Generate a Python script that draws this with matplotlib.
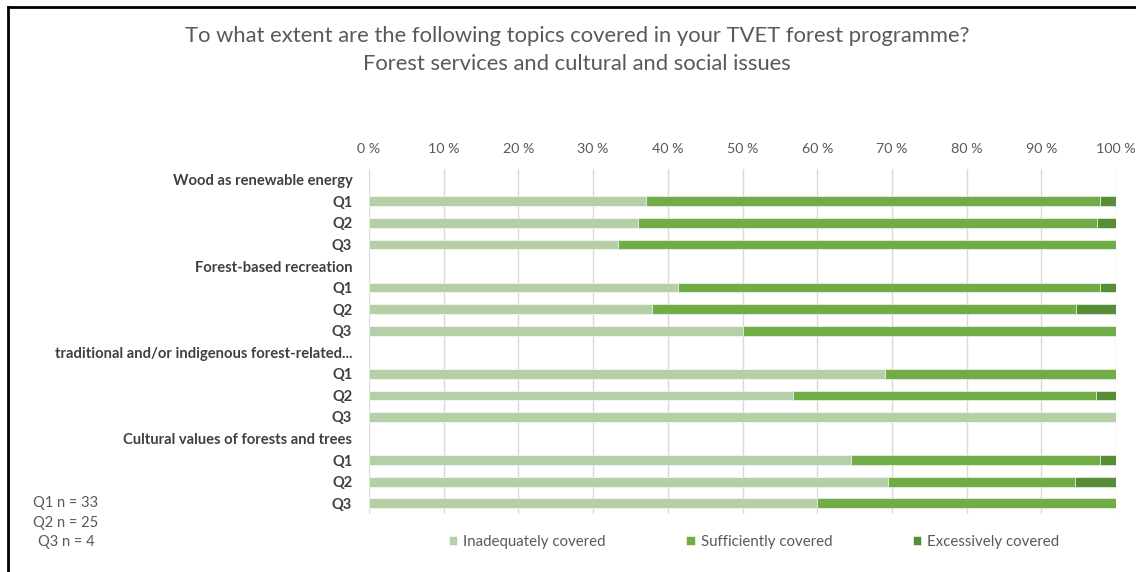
import matplotlib.pyplot as plt
from matplotlib.lines import Line2D

plt.rcParams['font.family'] = ['Lato', 'DejaVu Sans']

# data (percent of respondents)
topics = ['Wood as renewable energy', 'Forest-based recreation',
          'traditional and/or indigenous forest-related...',
          'Cultural values of forests and trees']
groups = ['Q1', 'Q2', 'Q3']
inadequate = [37.1, 36.0, 33.4, 41.4, 37.9, 50.1, 69.1, 56.8, 100.0, 64.5, 69.5, 60.0]
sufficient = [60.7, 61.5, 66.6, 56.4, 56.7, 49.9, 30.9, 40.5, 0.0, 33.3, 25.0, 40.0]
excessive = [2.2, 2.5, 0.0, 2.2, 5.4, 0.0, 0.0, 2.7, 0.0, 2.2, 5.5, 0.0]
notes = ['Q1 n = 33', 'Q2 n = 25', 'Q3 n = 4']
series_names = ['Inadequately covered', 'Sufficiently covered', 'Excessively covered']
colors = ['#b5cfa7', '#70ad47', '#588c37']
text_grey = '#595959'

# build row layout: topic header row followed by Q1..Q3 rows
labels = []
bar_rows = []
for topic in topics:
    labels.append(topic)
    for g in groups:
        bar_rows.append(len(labels))
        labels.append(g)

fig = plt.figure(figsize=(11.36, 5.72), dpi=100)
ax = fig.add_axes([369 / 1136, 1 - 514 / 572, 747 / 1136, 345 / 572])

left = [0.0] * len(bar_rows)
for vals, name, c in zip([inadequate, sufficient, excessive], series_names, colors):
    ax.barh(bar_rows, vals, left=left, height=0.45, color=c, label=name,
            edgecolor='white', linewidth=0.4, zorder=3)
    left = [a + b for a, b in zip(left, vals)]

ax.set_ylim(len(labels) - 0.5, -0.5)
ax.set_yticks(range(len(labels)))
ax.set_yticklabels(labels, fontsize=10.6, fontweight='bold', color='#404040')
ax.set_xlim(0, 100)
ax.set_xticks(range(0, 101, 10))
ax.set_xticklabels([f'{v} %' for v in range(0, 101, 10)], fontsize=10.3, color=text_grey)
ax.xaxis.tick_top()
ax.tick_params(axis='both', length=0)
ax.tick_params(axis='x', pad=10)
ax.tick_params(axis='y', pad=12)
ax.grid(axis='x', color='#d9d9d9', linewidth=1, zorder=0)
for s in ax.spines.values():
    s.set_visible(False)

fig.text(577 / 1136, 1 - 36 / 572, 'To what extent are the following topics covered in your TVET forest programme?',
         ha='center', va='center', fontsize=15.8, color=text_grey)
fig.text(577 / 1136, 1 - 64 / 572, 'Forest services and cultural and social issues',
         ha='center', va='center', fontsize=15.8, color=text_grey)

for i, t in enumerate(notes):
    fig.text(33 / 1136 + (0.004 if i == 2 else 0), 1 - (503 + 19.5 * i) / 572, t,
             ha='left', va='center', fontsize=10.5, color=text_grey)

fig.legend(loc='center', bbox_to_anchor=(754 / 1136, 1 - 542 / 572), ncol=3, frameon=False,
           fontsize=10.8, labelcolor=text_grey, handlelength=0.55, handleheight=0.55,
           handletextpad=0.4, columnspacing=5.4)

# frame lines at top and left of the screenshot
fig.add_artist(Line2D([8 / 1136, 1], [1 - 7 / 572, 1 - 7 / 572], color='black', linewidth=2))
fig.add_artist(Line2D([8 / 1136, 8 / 1136], [0, 1 - 7 / 572], color='black', linewidth=2))

fig.savefig('out.png', dpi=100)
